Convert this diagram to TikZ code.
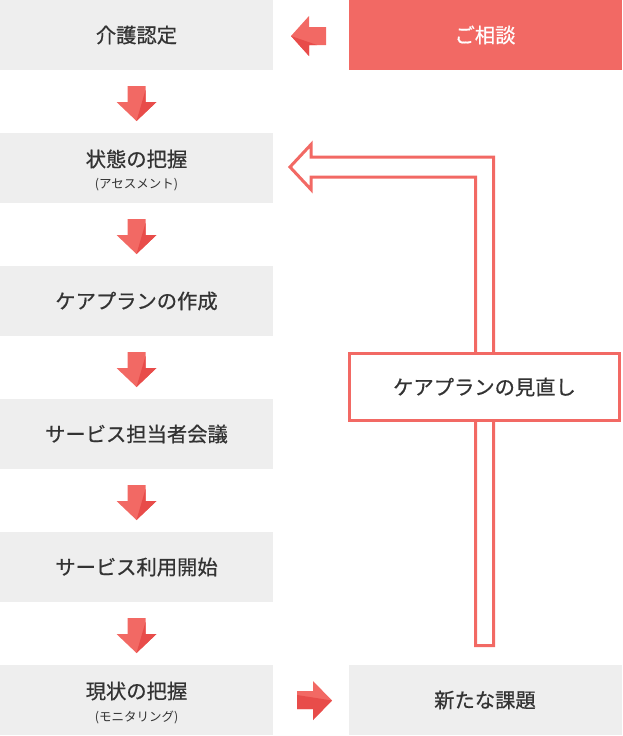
\documentclass[tikz,border=0pt]{standalone}
\usepackage{fontspec}
\setmainfont{Noto Sans CJK JP}
\newfontfamily\jpmed[FakeBold=0.6]{Noto Sans CJK JP}
\definecolor{boxgray}{HTML}{EEEEEE}
\definecolor{rlight}{HTML}{F26964}
\definecolor{rdark}{HTML}{E84C4A}
\definecolor{txt}{HTML}{333333}
\tikzset{
  graybox/.style={fill=boxgray, draw=none, minimum width=273pt, minimum height=70pt, inner sep=0pt, outer sep=0pt},
  lbl/.style={text=txt, font=\jpmed\fontsize{20.3}{22}\selectfont, inner sep=0pt},
  sublbl/.style={text=txt, font=\fontsize{12.5}{14}\selectfont, inner sep=0pt},
  downarr/.pic={
    \fill[rlight] (-9,0) -- (9,0) -- (9,16) -- (20,16) -- (0,35) -- (-20,16) -- (-9,16) -- cycle;
    \fill[rdark] (9,4) -- (9,16) -- (20,16) -- (0,35) -- cycle;
  }
}
\begin{document}
\begin{tikzpicture}[x=1pt,y=-1pt]
\useasboundingbox (0,0) rectangle (622,736);
% left column
\node[graybox] (b1) at (136.5,35) {};
\node[lbl] (b1t) at (b1.center) {介護認定};
\node[graybox] (b2) at (136.5,168) {};
\node[lbl] (b2t) at (136.5,159) {状態の把握};
\node[sublbl] (b2s) at (136.5,185) {(アセスメント)};
\node[graybox] (b3) at (136.5,301) {};
\node[lbl] (b3t) at (b3.center) {ケアプランの作成};
\node[graybox] (b4) at (136.5,434) {};
\node[lbl] (b4t) at (b4.center) {サービス担当者会議};
\node[graybox] (b5) at (136.5,567) {};
\node[lbl] (b5t) at (b5.center) {サービス利用開始};
\node[graybox] (b6) at (136.5,700) {};
\node[lbl] (b6t) at (136.5,691) {現状の把握};
\node[sublbl] (b6s) at (136.5,717) {(モニタリング)};
% right column
\node[graybox, fill=rlight] (r1) at (485,35) {};
\node[lbl, text=white] (r1t) at (r1.center) {ご相談};
\node[graybox] (r3) at (485,700) {};
\node[lbl] (r3t) at (r3.center) {新たな課題};
% down arrows
\foreach \yy in {86,219,352,485,618} { \pic at (136.5,\yy) {downarr}; }
% left arrow
\fill[rlight] (326,27) -- (309,27) -- (309,16) -- (291,36) -- (309,56) -- (309,45) -- (326,45) -- cycle;
\fill[rdark] (291,36) -- (309,56) -- (309,45) -- (317,45) -- cycle;
% right arrow
\fill[rlight] (297,691) -- (313,691) -- (313,681) -- (332,700.5) -- (313,720) -- (313,709) -- (297,709) -- cycle;
\fill[rdark] (297,695) -- (332,700.5) -- (313,720) -- (313,709) -- (297,709) -- cycle;
% hollow return arrow
\draw[rlight, line width=3pt, line join=miter] (475.5,645.5) -- (475.5,177) -- (311,177) -- (311,189.5) -- (290,167) -- (311,144.5) -- (311,157) -- (493.5,157) -- (493.5,645.5) -- cycle;
% review box
\node[draw=rlight, line width=3pt, fill=white, minimum width=270pt, minimum height=67pt, inner sep=0pt] (m) at (484.5,387) {};
\node[lbl] (mt) at (m.center) {ケアプランの見直し};
\end{tikzpicture}
\end{document}
